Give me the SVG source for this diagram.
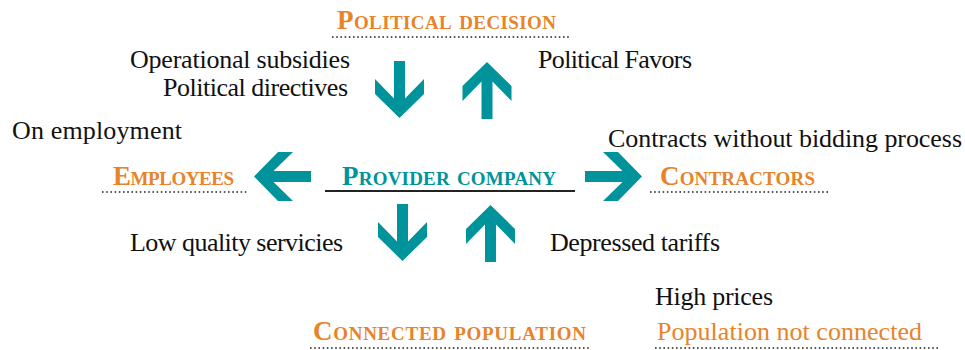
<svg xmlns="http://www.w3.org/2000/svg" width="965" height="350" viewBox="0 0 965 350">
  <style>
    text { font-family: "Liberation Serif", "DejaVu Serif", "Times New Roman", serif; }
    .lbl { font-size: 26px; fill: #111; }
    .node { font-size: 27px; font-weight: bold; font-variant: small-caps; }
    .orange { fill: #E8832A; }
    .teal { fill: #00939B; }
    .dots { stroke: #222; stroke-width: 1.6; stroke-dasharray: 1.6 2.6; fill: none; }
    .rule { stroke: #222; stroke-width: 2; fill: none; }
    .arrow { fill: #00939B; }
  </style>
  <defs>
    <!-- block arrow pointing right, tip at the origin -->
    <path id="arr" d="M0,0 L-24,-24.5 L-39,-24.5 L-19.5,-5.5 L-57,-5.5 L-57,5.5 L-19.5,5.5 L-39,24.5 L-24,24.5 Z"/>
  </defs>

  <rect width="965" height="350" fill="#fff"/>

  <g id="political-decision">
    <text class="node orange" x="337" y="29" textLength="219" lengthAdjust="spacing">Political decision</text>
    <line class="dots" x1="332" y1="37" x2="569" y2="37"/>
  </g>

  <g id="provider-company">
    <text class="node teal" x="342" y="185" textLength="214" lengthAdjust="spacing">Provider company</text>
    <line class="rule" x1="325" y1="191" x2="575" y2="191"/>
  </g>

  <g id="employees">
    <text class="node orange" x="113" y="185" textLength="121" lengthAdjust="spacing">Employees</text>
    <line class="dots" x1="102" y1="192" x2="248" y2="192"/>
  </g>

  <g id="contractors">
    <text class="node orange" x="660" y="185" textLength="155" lengthAdjust="spacing">Contractors</text>
    <line class="dots" x1="650" y1="192" x2="830" y2="192"/>
  </g>

  <g id="connected-population">
    <text class="node orange" x="313" y="340" textLength="273" lengthAdjust="spacing">Connected population</text>
    <line class="dots" x1="310" y1="348" x2="590" y2="348"/>
  </g>

  <g id="population-not-connected">
    <text class="lbl orange" x="657" y="340" textLength="265" lengthAdjust="spacing">Population not connected</text>
    <line class="dots" x1="655" y1="348" x2="940" y2="348"/>
  </g>

  <g id="connectors" class="arrow">
    <use href="#arr" transform="translate(399.5,118) rotate(90)"/>
    <use href="#arr" transform="translate(487,62) rotate(-90)"/>
    <use href="#arr" transform="translate(254,176.5) rotate(180)"/>
    <use href="#arr" transform="translate(642,176.5)"/>
    <use href="#arr" transform="translate(402.5,261) rotate(90)"/>
    <use href="#arr" transform="translate(490.5,205) rotate(-90)"/>
  </g>

  <g id="labels">
    <text class="lbl" x="130" y="68" textLength="220" lengthAdjust="spacing">Operational subsidies</text>
    <text class="lbl" x="163" y="96" textLength="185" lengthAdjust="spacing">Political directives</text>
    <text class="lbl" x="538" y="68" textLength="154" lengthAdjust="spacing">Political Favors</text>
    <text class="lbl" x="12" y="139" textLength="170" lengthAdjust="spacing">On employment</text>
    <text class="lbl" x="608" y="147" textLength="354" lengthAdjust="spacing">Contracts without bidding process</text>
    <text class="lbl" x="130" y="251" textLength="213" lengthAdjust="spacing">Low quality servicies</text>
    <text class="lbl" x="550" y="251" textLength="170" lengthAdjust="spacing">Depressed tariffs</text>
    <text class="lbl" x="655" y="305" textLength="118" lengthAdjust="spacing">High prices</text>
  </g>
</svg>
